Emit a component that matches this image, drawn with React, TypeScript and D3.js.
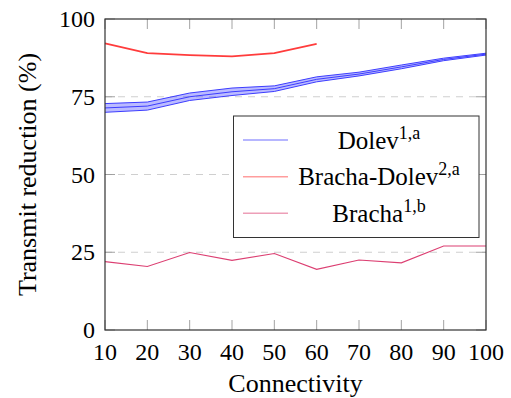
import * as d3 from "d3";

// values
const connectivity = [10, 20, 30, 40, 50, 60, 70, 80, 90, 100];
const dolevMean = [71.4, 72.0, 75.0, 76.6, 77.6, 80.6, 82.3, 84.6, 87.0, 88.7];
const dolevSpread = [1.4, 1.3, 1.2, 1.2, 0.9, 0.8, 0.6, 0.6, 0.4, 0.3];
const brachaDolevX = [10, 20, 30, 40, 50, 60];
const brachaDolev = [92.2, 89.0, 88.4, 88.0, 89.0, 92.0];
const bracha = [22.0, 20.4, 24.9, 22.4, 24.6, 19.5, 22.5, 21.6, 27.0, 27.0];
const yTicks = [0, 25, 50, 75, 100];
const gridTicks = [25, 50, 75];

const W = 511;
const H = 398;
const left = 105;
const right = 486;
const top = 19;
const bottom = 330;
const serif = { fontFamily: "Liberation Serif" };

const blue = "#3d3dff";
const red = "#ff3c3c";
const pink = "#dc3f72";

export default function App() {
  const x = d3.scaleLinear().domain([10, 100]).range([left, right]);
  const y = d3.scaleLinear().domain([0, 100]).range([bottom, top]);

  type P = [number, number];
  const line = d3
    .line<P>()
    .x((d) => x(d[0]))
    .y((d) => y(d[1]));
  const area = d3
    .area<[number, number, number]>()
    .x((d) => x(d[0]))
    .y0((d) => y(d[1]))
    .y1((d) => y(d[2]));

  const dolevUpper: P[] = connectivity.map((c, i) => [c, dolevMean[i] + dolevSpread[i]]);
  const dolevLower: P[] = connectivity.map((c, i) => [c, dolevMean[i] - dolevSpread[i]]);
  const dolevMid: P[] = connectivity.map((c, i) => [c, dolevMean[i]]);
  const band = connectivity.map(
    (c, i) => [c, dolevMean[i] - dolevSpread[i], dolevMean[i] + dolevSpread[i]] as [number, number, number]
  );
  const redPts: P[] = brachaDolevX.map((c, i) => [c, brachaDolev[i]]);
  const pinkPts: P[] = connectivity.map((c, i) => [c, bracha[i]]);

  const legendRows = [
    { name: "Dolev", sup: "1,a", color: blue, ly: 140, ty: 149 },
    { name: "Bracha-Dolev", sup: "2,a", color: red, ly: 176.7, ty: 185 },
    { name: "Bracha", sup: "1,b", color: pink, ly: 213.3, ty: 222 },
  ];

  return (
    <svg width={W} height={H} style={{ position: "absolute", left: 0, top: 0 }}>
      <rect width={W} height={H} fill="#fff" />
      {gridTicks.map((t) => (
        <line key={t} x1={left} x2={right} y1={y(t)} y2={y(t)} stroke="#cfcfcf" strokeWidth={1.2} strokeDasharray="7,6" />
      ))}
      {/* ticks, all inward */}
      {connectivity.map((c) => (
        <g key={c} stroke="#999" strokeWidth={0.9}>
          <line x1={x(c)} x2={x(c)} y1={bottom} y2={bottom - 10} />
          <line x1={x(c)} x2={x(c)} y1={top} y2={top + 10} />
        </g>
      ))}
      {yTicks.map((t) => (
        <g key={t} stroke="#999" strokeWidth={0.9}>
          <line x1={left} x2={left + 10} y1={y(t)} y2={y(t)} />
          <line x1={right} x2={right - 10} y1={y(t)} y2={y(t)} />
        </g>
      ))}

      <path d={area(band) ?? ""} fill={blue} fillOpacity={0.35} />
      {[dolevUpper, dolevMid, dolevLower].map((pts, i) => (
        <path key={i} d={line(pts) ?? ""} fill="none" stroke={blue} strokeWidth={1} />
      ))}
      <path d={line(redPts) ?? ""} fill="none" stroke={red} strokeWidth={1.8} />
      <path d={line(pinkPts) ?? ""} fill="none" stroke={pink} strokeWidth={1.1} />

      <rect x={left} y={top} width={right - left} height={bottom - top} fill="none" stroke="#333" strokeWidth={1.2} />

      {/* tick labels */}
      {connectivity.map((c) => (
        <text key={c} x={x(c)} y={360} textAnchor="middle" fontSize={24} style={serif}>
          {c}
        </text>
      ))}
      {yTicks.map((t) => (
        <text key={t} x={95} y={y(t) + 8} textAnchor="end" fontSize={24} style={serif}>
          {t}
        </text>
      ))}

      <text x={(left + right) / 2} y={392} textAnchor="middle" fontSize={26} style={serif}>
        Connectivity
      </text>
      <text transform={`translate(36,${(top + bottom) / 2}) rotate(-90)`} textAnchor="middle" fontSize={26} style={serif}>
        Transmit reduction (%)
      </text>

      {/* legend */}
      <rect x={233.5} y={116} width={245.5} height={121.5} fill="#fff" stroke="#333" strokeWidth={1} />
      {legendRows.map((r) => (
        <g key={r.name}>
          <line x1={243} x2={288} y1={r.ly} y2={r.ly} stroke={r.color} strokeOpacity={0.5} strokeWidth={1.5} />
          <text x={379} y={r.ty} textAnchor="middle" fontSize={25} style={serif}>
            {r.name}
            <tspan dy={-10} fontSize={18}>
              {r.sup}
            </tspan>
          </text>
        </g>
      ))}
    </svg>
  );
}
